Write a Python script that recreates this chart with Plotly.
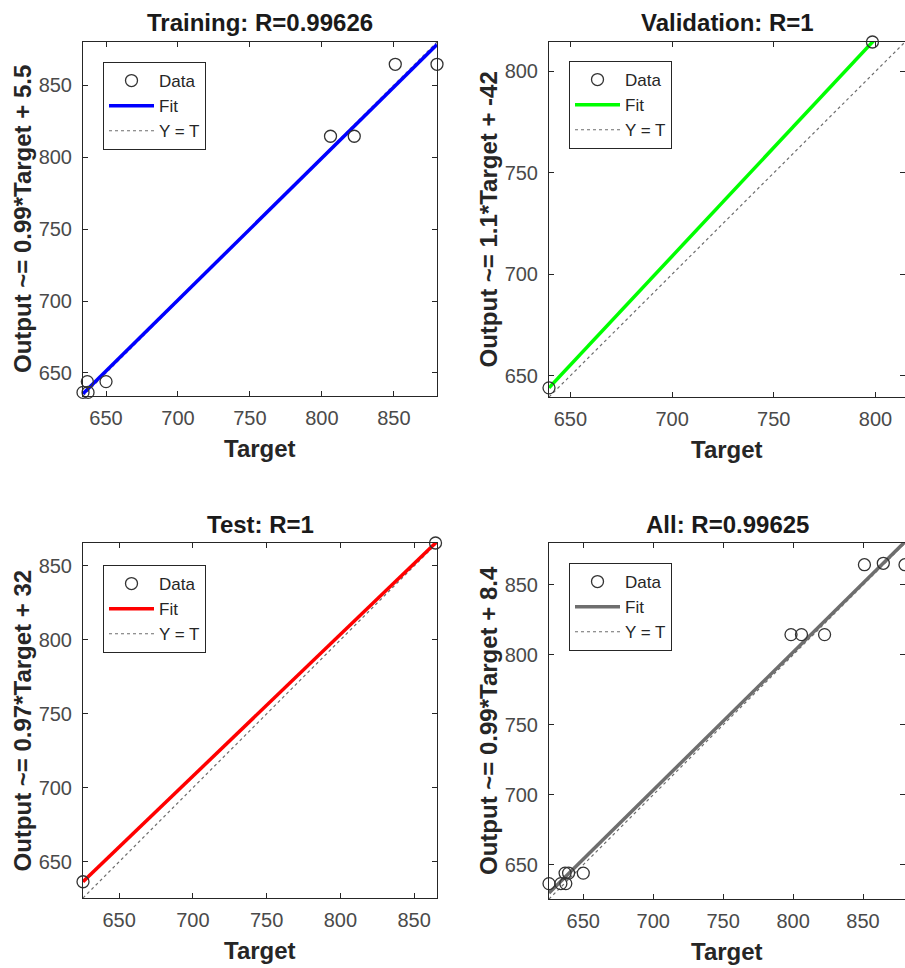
import numpy as np
import plotly.graph_objects as go

# ---------------- data ----------------
train_target = [634, 637.5, 637, 650, 806, 822.5, 851, 880]
train_output = [636.5, 636.5, 644, 644, 814.5, 814.5, 864.5, 864.5]
val_target = [639.5, 798.5]
val_output = [644, 814.5]
test_target = [625.5, 864.5]
test_output = [636.5, 865.5]
all_target = train_target + val_target + test_target
all_output = train_output + val_output + test_output

titles = ["Training: R=0.99626", "Validation: R=1", "Test: R=1", "All: R=0.99625"]
ylabels = ["Output ~= 0.99*Target + 5.5", "Output ~= 1.1*Target + -42",
           "Output ~= 0.97*Target + 32", "Output ~= 0.99*Target + 8.4"]
fit_colors = ["#0000FF", "#00FF00", "#FF0000", "#6E6E6E"]
tick_vals = [650, 700, 750, 800, 850]

panels = [(train_target, train_output), (val_target, val_output),
          (test_target, test_output), (all_target, all_output)]

W, H = 905, 968
# pixel boxes of the four axes: (left, right, top, bottom)
boxes = [(83, 437, 42, 396), (549, 905, 42, 397),
         (83, 437, 543, 898), (549, 905, 543, 899)]
legend_pos = [(103, 62), (569, 61), (103, 565), (569, 563)]

FONT = "Arial, Liberation Sans, Helvetica, sans-serif"
AX = "#262626"

fig = go.Figure()
annotations = []
layout_axes = {}

for i, ((t, o), (l, r, tp, bt)) in enumerate(zip(panels, boxes)):
    n = i + 1
    xa = "x" if n == 1 else f"x{n}"
    ya = "y" if n == 1 else f"y{n}"
    leg = "legend" if n == 1 else f"legend{n}"
    t_arr = np.array(t, dtype=float)
    o_arr = np.array(o, dtype=float)
    lo = float(min(t_arr.min(), o_arr.min()))
    hi = float(max(t_arr.max(), o_arr.max()))
    slope, intercept = np.polyfit(t_arr, o_arr, 1)
    xs = np.array([lo, hi])

    fig.add_trace(go.Scatter(x=xs, y=xs, mode="lines", name="Y = T",
                             line=dict(color="#6E6E6E", width=1.2, dash="dot"),
                             xaxis=xa, yaxis=ya, legend=leg, legendrank=3))
    fig.add_trace(go.Scatter(x=xs, y=slope * xs + intercept, mode="lines", name="Fit",
                             line=dict(color=fit_colors[i], width=3.5),
                             xaxis=xa, yaxis=ya, legend=leg, legendrank=2))
    fig.add_trace(go.Scatter(x=t, y=o, mode="markers", name="Data",
                             marker=dict(symbol="circle-open", size=12, color="#333333",
                                         line=dict(color="#333333", width=1.3)),
                             cliponaxis=False,
                             xaxis=xa, yaxis=ya, legend=leg, legendrank=1))

    axis_common = dict(showgrid=False, zeroline=False, showline=True, mirror="ticks",
                       linecolor=AX, linewidth=1, ticks="inside", ticklen=5,
                       tickcolor=AX, tickwidth=1, tickvals=tick_vals,
                       tickfont=dict(family=FONT, size=20, color="#4A4A4A"),
                       range=[lo, hi], fixedrange=True)
    xkey = "xaxis" if n == 1 else f"xaxis{n}"
    ykey = "yaxis" if n == 1 else f"yaxis{n}"
    layout_axes[xkey] = dict(axis_common, domain=[l / W, r / W], anchor=ya,
                             ticklabelstandoff=4)
    layout_axes[ykey] = dict(axis_common, domain=[1 - bt / H, 1 - tp / H], anchor=xa,
                             ticklabelstandoff=6)

    cx = (l + r) / 2
    cy = (tp + bt) / 2
    annotations.append(dict(text=f"<b>{titles[i]}</b>", x=cx / W, y=1 - (tp - 19) / H,
                            xref="paper", yref="paper", showarrow=False,
                            xanchor="center", yanchor="middle",
                            font=dict(family=FONT, size=24, color="#1A1A1A")))
    annotations.append(dict(text="<b>Target</b>", x=cx / W, y=1 - (bt + 52) / H,
                            xref="paper", yref="paper", showarrow=False,
                            xanchor="center", yanchor="middle",
                            font=dict(family=FONT, size=24, color="#262626")))
    annotations.append(dict(text=f"<b>{ylabels[i]}</b>", x=(l - 61) / W, y=1 - cy / H,
                            xref="paper", yref="paper", showarrow=False, textangle=-90,
                            xanchor="center", yanchor="middle",
                            font=dict(family=FONT, size=24, color="#262626")))

    lx, ly = legend_pos[i]
    layout_axes[leg] = dict(x=lx / W, y=1 - ly / H, xanchor="left", yanchor="top",
                            xref="paper", yref="paper",
                            bgcolor="white", bordercolor=AX, borderwidth=1,
                            font=dict(family=FONT, size=17, color="#262626"),
                            itemwidth=45, traceorder="normal")

fig.update_layout(width=W, height=H, margin=dict(l=0, r=0, t=0, b=0),
                  paper_bgcolor="white", plot_bgcolor="white",
                  showlegend=True, annotations=annotations, **layout_axes)

fig.write_html("out.html")
